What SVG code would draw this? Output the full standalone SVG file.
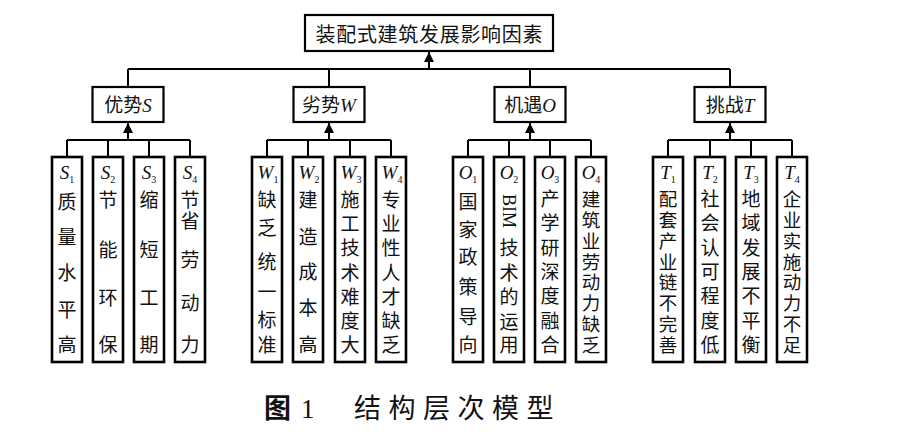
<svg xmlns="http://www.w3.org/2000/svg" width="902" height="435" viewBox="0 0 902 435">
<defs>
<style>
.box{fill:#fff;stroke:#000;stroke-width:2.2}
.leaf{fill:#fff;stroke:#000;stroke-width:2.6}
.cn{font-family:"Noto Sans CJK SC","Noto Sans CJK JP",sans-serif;font-size:19px;fill:#111}
.cn8{font-size:18.5px}
.lt{font-family:"Liberation Serif",serif;font-style:italic;font-size:19px;fill:#111}
.sub{font-size:10px;font-style:normal}
.conn{stroke:#000;stroke-width:2;fill:none}
.arr{marker-end:url(#ah)}
</style>
<marker id="ah" viewBox="0 0 10 10" refX="10" refY="5" markerWidth="10" markerHeight="10" markerUnits="userSpaceOnUse" orient="auto">
<path d="M0,0 L10,5 L0,10 z" fill="#000"/>
</marker>
</defs>
<rect width="902" height="435" fill="#fff"/>

<g id="connectors">
<path class="conn" d="M128,69 H730 M128,69 V87 M329,69 V87 M530,69 V87 M730,69 V87"/>
<path class="conn arr" d="M429,69 V52"/>
<path class="conn" d="M67,140 H190 M67,140 V157 M108,140 V157 M149,140 V157 M190,140 V157"/>
<path class="conn arr" d="M128,140 V123"/>
<path class="conn" d="M267,140 H391 M267,140 V157 M308,140 V157 M350,140 V157 M391,140 V157"/>
<path class="conn arr" d="M329,140 V123"/>
<path class="conn" d="M468,140 H591 M468,140 V157 M509,140 V157 M550,140 V157 M591,140 V157"/>
<path class="conn arr" d="M530,140 V123"/>
<path class="conn" d="M668,140 H792 M668,140 V157 M710,140 V157 M751,140 V157 M792,140 V157"/>
<path class="conn arr" d="M730,140 V123"/>
</g>

<g id="root">
<rect class="box" x="305" y="15" width="248" height="36"/>
<text class="cn" x="315.5" y="41.5" style="font-size:20px;letter-spacing:0.7px">装配式建筑发展影响因素</text>
</g>

<g id="S">
<rect class="box" x="92.5" y="87" width="71" height="35"/>
<text class="cn" x="128" y="112" text-anchor="middle">优势<tspan class="lt">S</tspan></text>
</g>
<g id="W">
<rect class="box" x="293.5" y="87" width="71" height="35"/>
<text class="cn" x="329" y="112" text-anchor="middle">劣势<tspan class="lt">W</tspan></text>
</g>
<g id="O">
<rect class="box" x="494.5" y="87" width="71" height="35"/>
<text class="cn" x="530" y="112" text-anchor="middle">机遇<tspan class="lt">O</tspan></text>
</g>
<g id="T">
<rect class="box" x="694.5" y="87" width="71" height="35"/>
<text class="cn" x="730" y="112" text-anchor="middle">挑战<tspan class="lt">T</tspan></text>
</g>

<g id="S1">
<rect class="leaf" x="52" y="157" width="30" height="205"/>
<text class="lt" x="67" y="179" text-anchor="middle">S<tspan class="sub" dy="4">1</tspan></text>
<text class="cn" text-anchor="middle" x="67 67 67 67 67" y="209 244 280 317 352">质量水平高</text>
</g>
<g id="S2">
<rect class="leaf" x="93" y="157" width="30" height="205"/>
<text class="lt" x="108" y="179" text-anchor="middle">S<tspan class="sub" dy="4">2</tspan></text>
<text class="cn" text-anchor="middle" x="108 108 108 108" y="207 257 305 352">节能环保</text>
</g>
<g id="S3">
<rect class="leaf" x="134" y="157" width="30" height="205"/>
<text class="lt" x="149" y="179" text-anchor="middle">S<tspan class="sub" dy="4">3</tspan></text>
<text class="cn" text-anchor="middle" x="149 149 149 149" y="207 257 305 352">缩短工期</text>
</g>
<g id="S4">
<rect class="leaf" x="175" y="157" width="30" height="205"/>
<text class="lt" x="190" y="179" text-anchor="middle">S<tspan class="sub" dy="4">4</tspan></text>
<text class="cn" text-anchor="middle" x="190 190 190 190 190" y="207 228 267 310 352">节省劳动力</text>
</g>

<g id="W1">
<rect class="leaf" x="252" y="157" width="30" height="205"/>
<text class="lt" x="268" y="179" text-anchor="middle">W<tspan class="sub" dy="4">1</tspan></text>
<text class="cn" text-anchor="middle" x="267 267 267 267 267 267" y="207 235 269 299 327 352">缺乏统一标准</text>
</g>
<g id="W2">
<rect class="leaf" x="293" y="157" width="30" height="205"/>
<text class="lt" x="309" y="179" text-anchor="middle">W<tspan class="sub" dy="4">2</tspan></text>
<text class="cn" text-anchor="middle" x="308 308 308 308 308" y="207 244 279 315 352">建造成本高</text>
</g>
<g id="W3">
<rect class="leaf" x="335" y="157" width="30" height="205"/>
<text class="lt" x="351" y="179" text-anchor="middle">W<tspan class="sub" dy="4">3</tspan></text>
<text class="cn" text-anchor="middle" x="350 350 350 350 350 350 350" y="207 231 255 280 304 328 352">施工技术难度大</text>
</g>
<g id="W4">
<rect class="leaf" x="376" y="157" width="30" height="205"/>
<text class="lt" x="392" y="179" text-anchor="middle">W<tspan class="sub" dy="4">4</tspan></text>
<text class="cn" text-anchor="middle" x="391 391 391 391 391 391 391" y="207 231 255 280 304 328 352">专业性人才缺乏</text>
</g>

<g id="O1">
<rect class="leaf" x="453" y="157" width="30" height="205"/>
<text class="lt" x="468" y="179" text-anchor="middle">O<tspan class="sub" dy="4">1</tspan></text>
<text class="cn" text-anchor="middle" x="468 468 468 468 468 468" y="209 237 264 294 324 352">国家政策导向</text>
</g>
<g id="O2">
<rect class="leaf" x="494" y="157" width="30" height="205"/>
<text class="lt" x="509" y="179" text-anchor="middle">O<tspan class="sub" dy="4">2</tspan></text>
<text transform="translate(503,194) rotate(90)" x="0" y="0" style="font-family:'Liberation Serif',serif;font-size:18px;fill:#111">BIM</text>
<text class="cn" text-anchor="middle" x="509 509 509 509 509" y="255 280 304 329 352">技术的运用</text>
</g>
<g id="O3">
<rect class="leaf" x="535" y="157" width="30" height="205"/>
<text class="lt" x="550" y="179" text-anchor="middle">O<tspan class="sub" dy="4">3</tspan></text>
<text class="cn" text-anchor="middle" x="550 550 550 550 550 550 550" y="206 230.3 254.7 279 303.3 327.7 352">产学研深度融合</text>
</g>
<g id="O4">
<rect class="leaf" x="576" y="157" width="30" height="205"/>
<text class="lt" x="591" y="179" text-anchor="middle">O<tspan class="sub" dy="4">4</tspan></text>
<text class="cn cn8" text-anchor="middle" x="591 591 591 591 591 591 591 591" y="206 226.9 247.7 268.6 289.4 310.3 331.1 352">建筑业劳动力缺乏</text>
</g>

<g id="T1">
<rect class="leaf" x="653" y="157" width="30" height="205"/>
<text class="lt" x="668" y="179" text-anchor="middle">T<tspan class="sub" dy="4">1</tspan></text>
<text class="cn cn8" text-anchor="middle" x="668 668 668 668 668 668 668 668" y="206 226.9 247.7 268.6 289.4 310.3 331.1 352">配套产业链不完善</text>
</g>
<g id="T2">
<rect class="leaf" x="695" y="157" width="30" height="205"/>
<text class="lt" x="710" y="179" text-anchor="middle">T<tspan class="sub" dy="4">2</tspan></text>
<text class="cn" text-anchor="middle" x="710 710 710 710 710 710 710" y="206 230.3 254.7 279 303.3 327.7 352">社会认可程度低</text>
</g>
<g id="T3">
<rect class="leaf" x="736" y="157" width="30" height="205"/>
<text class="lt" x="751" y="179" text-anchor="middle">T<tspan class="sub" dy="4">3</tspan></text>
<text class="cn" text-anchor="middle" x="751 751 751 751 751 751 751" y="206 230.3 254.7 279 303.3 327.7 352">地域发展不平衡</text>
</g>
<g id="T4">
<rect class="leaf" x="777" y="157" width="30" height="205"/>
<text class="lt" x="792" y="179" text-anchor="middle">T<tspan class="sub" dy="4">4</tspan></text>
<text class="cn cn8" text-anchor="middle" x="792 792 792 792 792 792 792 792" y="206 226.9 247.7 268.6 289.4 310.3 331.1 352">企业实施动力不足</text>
</g>

<g id="caption">
<text x="264" y="418" style="font-family:'Noto Sans CJK SC',sans-serif;font-size:27px;font-weight:bold;fill:#111">图</text>
<text x="301" y="418" style="font-family:'Liberation Serif',serif;font-size:27px;fill:#111">1</text>
<text x="354" y="418" style="font-family:'Noto Sans CJK SC',sans-serif;font-size:27px;letter-spacing:7.5px;fill:#111">结构层次模型</text>
</g>
</svg>
